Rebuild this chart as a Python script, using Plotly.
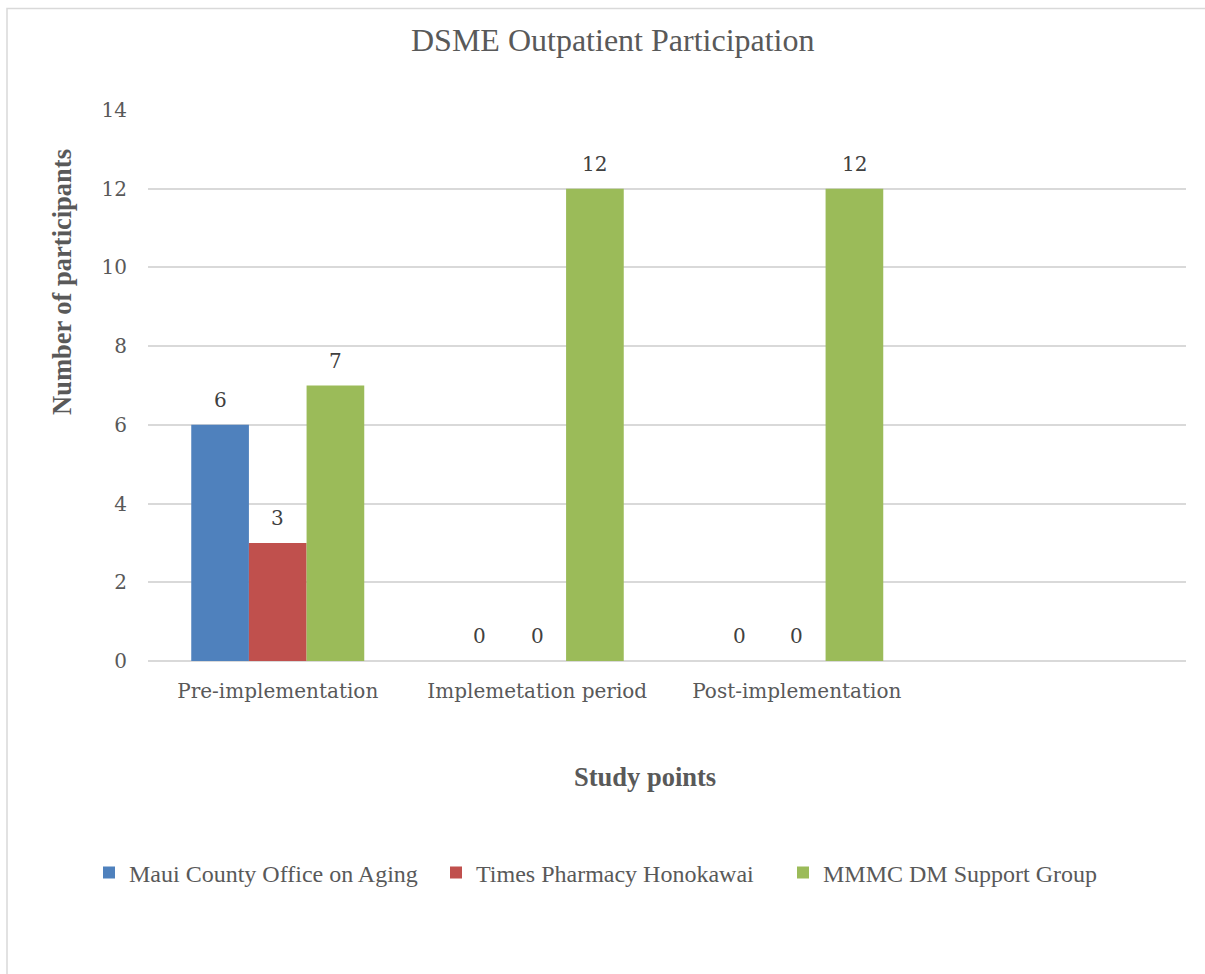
import plotly.graph_objects as go

# Study points (a fourth, unlabeled slot keeps the right-hand space on the axis)
categories = ["Pre-implementation", "Implemetation period", "Post-implementation"]
series_names = ["Maui County Office on Aging", "Times Pharmacy Honokawai", "MMMC DM Support Group"]
maui_office = [6, 0, 0]
times_pharmacy = [3, 0, 0]
mmmc_group = [7, 12, 12]
series_values = [maui_office, times_pharmacy, mmmc_group]
colors = ["#4f81bd", "#c0504d", "#9bbb59"]
y_ticks = [0, 2, 4, 6, 8, 10, 12, 14]

W, H = 1205, 974
ML, MR, MT, MB = 148, 19, 110, 313
plot_w = W - ML - MR
plot_h = H - MT - MB
slot = plot_w / 4.0
bar_px = slot / 4.5

fig = go.Figure()
for name, vals, col in zip(series_names, series_values, colors):
    fig.add_trace(go.Bar(x=categories, y=vals, name=name, marker=dict(color=col, line=dict(width=0))))

# value labels above each bar
for i, vals in enumerate(series_values):
    for cat, v in zip(categories, vals):
        fig.add_annotation(x=cat, y=v, text=str(v), showarrow=False, xref="x", yref="y",
                           xshift=(i - 1) * bar_px, yshift=25,
                           font=dict(family="DejaVu Serif", size=20, color="#404040"))

label_font = dict(family="DejaVu Serif", size=20, color="#595959")

fig.update_layout(
    width=W, height=H,
    margin=dict(l=ML, r=MR, t=MT, b=MB),
    paper_bgcolor="white", plot_bgcolor="white",
    barmode="group", bargap=1.5 / 4.5, bargroupgap=0,
    showlegend=True,
    legend=dict(orientation="h", x=-(ML - 89) / plot_w, xanchor="left",
                y=-(873 - (H - MB)) / plot_h, yanchor="middle",
                font=dict(family="Liberation Serif", size=24, color="#595959"),
                itemwidth=30, entrywidthmode="pixels", entrywidth=302,
                tracegroupgap=0, traceorder="normal"),
    xaxis=dict(type="category", categoryarray=categories, range=[-0.5, 3.5],
               showgrid=False, showline=False, zeroline=False, ticks="",
               tickfont=label_font, ticklabelstandoff=16),
    yaxis=dict(range=[0, 14], tickvals=y_ticks, showgrid=True, gridcolor="#d9d9d9", gridwidth=1.5,
               zeroline=True, zerolinecolor="#d9d9d9", zerolinewidth=1.5, showline=False,
               ticks="", tickfont=label_font, ticklabelstandoff=20),
)

# chart title and axis titles
fig.add_annotation(text="DSME Outpatient Participation", xref="paper", yref="paper",
                   x=(613 - ML) / plot_w, y=1 + (MT - 40) / plot_h, showarrow=False,
                   xanchor="center", yanchor="middle",
                   font=dict(family="Liberation Serif", size=32, color="#595959"))
fig.add_annotation(text="<b>Number of participants</b>", xref="paper", yref="paper",
                   x=-(ML - 62) / plot_w, y=(H - MB - 282) / plot_h, showarrow=False,
                   textangle=-90, xanchor="center", yanchor="middle",
                   font=dict(family="Liberation Serif", size=26.5, color="#595959"))
fig.add_annotation(text="<b>Study points</b>", xref="paper", yref="paper",
                   x=(645 - ML) / plot_w, y=-(777 - (H - MB)) / plot_h, showarrow=False,
                   xanchor="center", yanchor="middle",
                   font=dict(family="Liberation Serif", size=26.5, color="#595959"))

# outer chart border (left and top edges visible)
fig.add_shape(type="rect", xref="paper", yref="paper",
              x0=-(ML - 7) / plot_w, x1=1 + (MR + 20) / plot_w,
              y0=-(MB + 20) / plot_h, y1=1 + (MT - 8.5) / plot_h,
              line=dict(color="#d9d9d9", width=1.5), fillcolor="rgba(0,0,0,0)", layer="below")

fig.write_html("out.html")
